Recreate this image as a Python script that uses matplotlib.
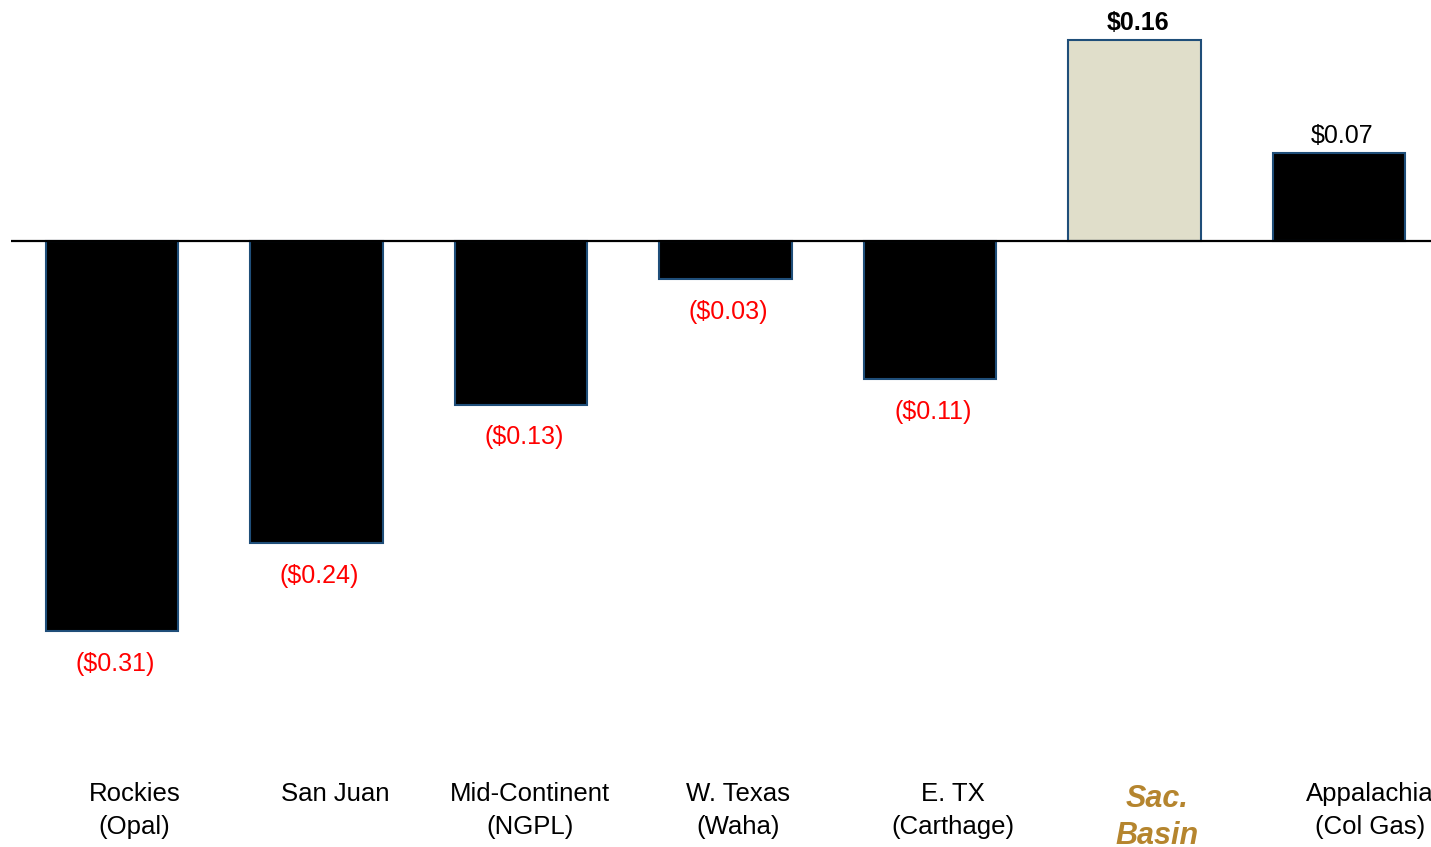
import numpy as np
from matplotlib import pyplot as plt
from matplotlib import transforms

# Daten
regions = ["Rockies\n(Opal)", "San Juan", "Mid-Continent\n(NGPL)", "W. Texas\n(Waha)",
           "E. TX\n(Carthage)", "Sac.\nBasin", "Appalachia\n(Col Gas)"]
basis = [-0.31, -0.24, -0.13, -0.03, -0.11, 0.16, 0.07]
value_labels = ["($0.31)", "($0.24)", "($0.13)", "($0.03)", "($0.11)", "$0.16", "$0.07"]
highlight = "Sac.\nBasin"

# Layout: kleine Verschiebung der Kategorietexte (in Balkenabstaenden)
label_shift = [0.11, 0.09, 0.045, 0.06, 0.11, 0.11, 0.15]

plt.rcParams['font.family'] = ['Liberation Sans', 'DejaVu Sans']

W, H = 1431, 847
fig = plt.figure(figsize=(W / 100, H / 100), dpi=100)
ax = fig.add_axes([11 / W, 0, 1 - 11 / W, 1])

px_per_unit = 1258.0
zero_px = 241
ax.set_ylim(-(H - zero_px) / px_per_unit, zero_px / px_per_unit)
ax.set_xlim((11 - 112) / 204.5, (W - 112) / 204.5)
ax.axis('off')

x = np.arange(len(regions))
fills = ['#E0DECA' if r == highlight else 'black' for r in regions]
ax.bar(x, basis, width=0.65, color=fills, edgecolor='#1F4E79', linewidth=1.5, zorder=2)
ax.axhline(0, color='black', linewidth=1.6, zorder=3)

# Wertbeschriftungen
for xi, v, lab, r in zip(x, basis, value_labels, regions):
    if v < 0:
        ax.annotate(lab, (xi + 0.015, v), xytext=(0, -15), textcoords='offset points',
                    ha='center', va='top', color='#FF0000', fontsize=18)
    else:
        ax.annotate(lab, (xi + 0.015, v), xytext=(0, 3.5), textcoords='offset points',
                    ha='center', va='bottom', color='black', fontsize=18,
                    fontweight='bold' if r == highlight else 'normal')

# Kategorien
trans = transforms.blended_transform_factory(ax.transData, fig.transFigure)
for xi, r, dx in zip(x, regions, label_shift):
    if r == highlight:
        ax.text(xi + dx, 1 - 784 / H, r, transform=trans, ha='center', va='top',
                fontsize=22, fontweight='bold', fontstyle='italic', color='#B5852E',
                linespacing=1.3)
    else:
        ax.text(xi + dx, 1 - 782 / H, r, transform=trans, ha='center', va='top',
                fontsize=18.5, color='black', linespacing=1.45)

fig.savefig("out.png", dpi=100)
